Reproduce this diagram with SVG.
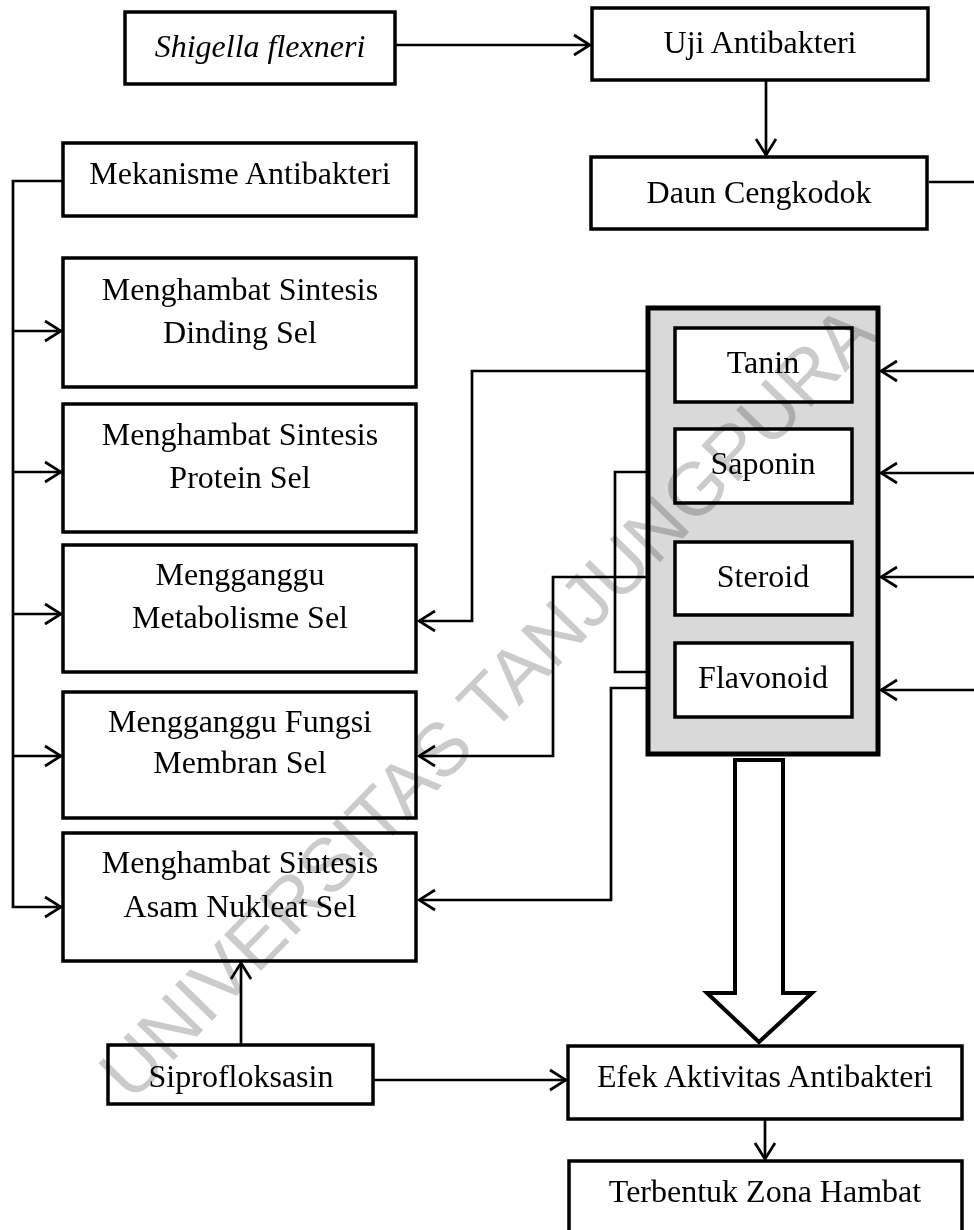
<svg xmlns="http://www.w3.org/2000/svg" width="974" height="1230" viewBox="0 0 974 1230">
<defs>
<style>
.box{fill:#fff;stroke:#000;stroke-width:3.5}
.inner{fill:#fff;stroke:#000;stroke-width:3.5}
.gray{fill:#d9d9d9;stroke:#000;stroke-width:5}
.ln{fill:none;stroke:#000;stroke-width:2.7}
.t{font-family:"Liberation Serif","Times New Roman",serif;font-size:32px;fill:#000;text-anchor:middle}
.it{font-style:italic}
.wm{font-family:"Liberation Sans",Arial,sans-serif;font-size:75px;fill:#cbcbcb;mix-blend-mode:multiply;text-anchor:middle;dominant-baseline:central}
</style>
<marker id="ah" viewBox="0 0 20 24" refX="18" refY="12" markerWidth="20" markerHeight="24" markerUnits="userSpaceOnUse" orient="auto">
<path d="M2,2 L18,12 L2,22" fill="none" stroke="#000" stroke-width="2.7"/>
</marker>
</defs>
<rect width="974" height="1230" fill="#fff"/>

<g id="connectors">
<path class="ln" d="M395,45 H590" marker-end="url(#ah)"/>
<path class="ln" d="M766,80 V155" marker-end="url(#ah)"/>
<path class="ln" d="M929,182 H974"/>
<path class="ln" d="M974,371 H881" marker-end="url(#ah)"/>
<path class="ln" d="M974,473 H881" marker-end="url(#ah)"/>
<path class="ln" d="M974,577 H881" marker-end="url(#ah)"/>
<path class="ln" d="M974,690 H881" marker-end="url(#ah)"/>
<path class="ln" d="M63,181 H13 V907 H61" marker-end="url(#ah)"/>
<path class="ln" d="M13,331 H61" marker-end="url(#ah)"/>
<path class="ln" d="M13,472 H61" marker-end="url(#ah)"/>
<path class="ln" d="M13,614 H61" marker-end="url(#ah)"/>
<path class="ln" d="M13,756 H61" marker-end="url(#ah)"/>
<path class="ln" d="M648,371 H472 V621 H419" marker-end="url(#ah)"/>
<path class="ln" d="M648,472 H615 V672 H648"/>
<path class="ln" d="M648,577 H553 V756 H419" marker-end="url(#ah)"/>
<path class="ln" d="M648,688 H611 V900 H419" marker-end="url(#ah)"/>
<path class="ln" d="M241,1045 V963" marker-end="url(#ah)"/>
<path class="ln" d="M373,1080 H566" marker-end="url(#ah)"/>
<path class="ln" d="M765,1119 V1159" marker-end="url(#ah)"/>
<polygon points="735,760 783,760 783,993 812,993 759,1042 707,993 735,993" fill="#fff" stroke="#000" stroke-width="4"/>
</g>

<g id="shigella"><rect class="box" x="125" y="12" width="270" height="72"/><text class="t it" x="260" y="57">Shigella flexneri</text></g>
<g id="uji"><rect class="box" x="592" y="8" width="336" height="72"/><text class="t" x="760" y="53">Uji Antibakteri</text></g>
<g id="daun"><rect class="box" x="591" y="157" width="336" height="72"/><text class="t" x="759" y="203">Daun Cengkodok</text></g>
<g id="mekanisme"><rect class="box" x="63" y="143" width="353" height="73"/><text class="t" x="240" y="184">Mekanisme Antibakteri</text></g>
<g id="dinding"><rect class="box" x="63" y="258" width="353" height="129"/><text class="t" x="240" y="300">Menghambat Sintesis</text><text class="t" x="240" y="343">Dinding Sel</text></g>
<g id="protein"><rect class="box" x="63" y="404" width="353" height="128"/><text class="t" x="240" y="445">Menghambat Sintesis</text><text class="t" x="240" y="488">Protein Sel</text></g>
<g id="metabolisme"><rect class="box" x="63" y="545" width="353" height="127"/><text class="t" x="240" y="585">Mengganggu</text><text class="t" x="240" y="628">Metabolisme Sel</text></g>
<g id="membran"><rect class="box" x="63" y="692" width="353" height="126"/><text class="t" x="240" y="732">Mengganggu Fungsi</text><text class="t" x="240" y="773">Membran Sel</text></g>
<g id="asam"><rect class="box" x="63" y="833" width="353" height="128"/><text class="t" x="240" y="873">Menghambat Sintesis</text><text class="t" x="240" y="917">Asam Nukleat Sel</text></g>

<g id="senyawa">
<rect class="gray" x="648" y="308" width="230" height="446"/>
<g id="tanin"><rect class="inner" x="675" y="328" width="177" height="74"/><text class="t" x="763" y="373">Tanin</text></g>
<g id="saponin"><rect class="inner" x="675" y="429" width="177" height="74"/><text class="t" x="763" y="474">Saponin</text></g>
<g id="steroid"><rect class="inner" x="675" y="542" width="177" height="73"/><text class="t" x="763" y="587">Steroid</text></g>
<g id="flavonoid"><rect class="inner" x="675" y="643" width="177" height="74"/><text class="t" x="763" y="688">Flavonoid</text></g>
</g>

<g id="siprofloksasin"><rect class="box" x="108" y="1045" width="265" height="59"/><text class="t" x="241" y="1087">Siprofloksasin</text></g>
<g id="efek"><rect class="box" x="568" y="1046" width="394" height="73"/><text class="t" x="765" y="1087">Efek Aktivitas Antibakteri</text></g>
<g id="zona"><rect class="box" x="569" y="1161" width="393" height="85"/><text class="t" x="765" y="1202">Terbentuk Zona Hambat</text></g>

<text class="wm" transform="translate(487,702) rotate(-45.7)">UNIVERSITAS TANJUNGPURA</text>
</svg>
